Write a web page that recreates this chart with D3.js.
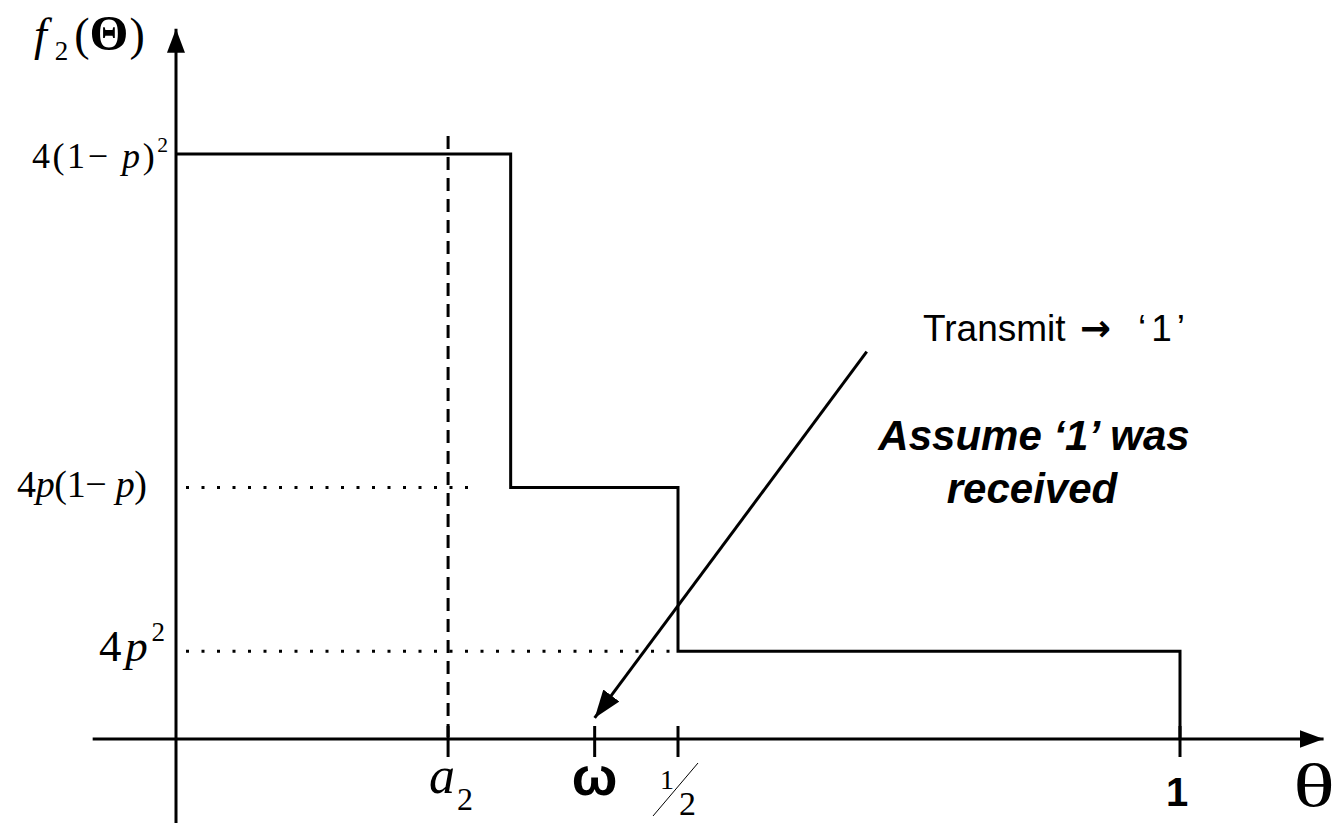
<!DOCTYPE html>
<html>
<head>
<meta charset="utf-8">
<script src="https://cdn.jsdelivr.net/npm/d3@7"></script>
<style>
  html, body { margin: 0; padding: 0; background: #fff; }
  svg { display: block; }
  .serif { font-family: "Liberation Serif", "Times New Roman", serif; }
  .sans { font-family: "Liberation Sans", Arial, sans-serif; }
</style>
</head>
<body>
<svg id="chart" width="1335" height="823"></svg>
<script>
// Step density f2(θ): breakpoints along θ and the level on each interval
const stepBreaks = [0, 1 / 3, 0.5, 1];
const stepLevels = [1.0, 0.43, 0.15];
const levelLabels = ["4(1−p)²", "4p(1−p)", "4p²"];

// Marked positions on the θ axis
const a2 = 0.271;
const omega = 0.417;
const half = 0.5;
const one = 1;

// Axis extents (data units)
const xAxisExtent = [-0.083, 1.143];
const yAxisExtent = [-0.144, 1.214];

// Annotation arrow: from under the caption down to ω
const noteStart = { t: 0.688, v: 0.662 };
const noteEnd = { t: omega, v: 0.036 };

const svg = d3.select("#chart");
const x = d3.scaleLinear().domain([0, 1]).range([176, 1180]);
const y = d3.scaleLinear().domain([0, 1]).range([739, 154]);

const defs = svg.append("defs");
defs.append("marker")
  .attr("id", "axisHead").attr("viewBox", "0 0 24 18")
  .attr("refX", 24).attr("refY", 9)
  .attr("markerWidth", 24).attr("markerHeight", 18)
  .attr("markerUnits", "userSpaceOnUse").attr("orient", "auto")
  .append("path").attr("d", "M0,0 L24,9 L0,18 Z").attr("fill", "#000");
defs.append("marker")
  .attr("id", "noteHead").attr("viewBox", "0 0 28 20")
  .attr("refX", 28).attr("refY", 10)
  .attr("markerWidth", 28).attr("markerHeight", 20)
  .attr("markerUnits", "userSpaceOnUse").attr("orient", "auto")
  .append("path").attr("d", "M0,0 L28,10 L0,20 Z").attr("fill", "#000");

// Axes
svg.append("line")
  .attr("x1", x(xAxisExtent[0])).attr("y1", y(0))
  .attr("x2", x(xAxisExtent[1])).attr("y2", y(0))
  .attr("stroke", "#000").attr("stroke-width", 3)
  .attr("marker-end", "url(#axisHead)");
svg.append("line")
  .attr("x1", x(0)).attr("y1", y(yAxisExtent[0]))
  .attr("x2", x(0)).attr("y2", y(yAxisExtent[1]))
  .attr("stroke", "#000").attr("stroke-width", 3)
  .attr("marker-end", "url(#axisHead)");

// Tick marks on θ axis
[a2, omega, half, one].forEach(t => {
  svg.append("line")
    .attr("x1", x(t)).attr("x2", x(t))
    .attr("y1", y(0) - 13).attr("y2", y(0) + 18)
    .attr("stroke", "#000").attr("stroke-width", 3);
});

// Dashed guide at a2
svg.append("line")
  .attr("x1", x(a2)).attr("x2", x(a2))
  .attr("y1", y(stepLevels[0]) - 18).attr("y2", y(0))
  .attr("stroke", "#000").attr("stroke-width", 3)
  .attr("stroke-dasharray", "13,8");

// Dotted reference lines to the lower levels
[1, 2].forEach(i => {
  const xEnd = i === 1 ? x(a2) + 22 : x(stepBreaks[2]) - 6;
  svg.append("line")
    .attr("x1", x(0) + 10).attr("x2", xEnd)
    .attr("y1", y(stepLevels[i])).attr("y2", y(stepLevels[i]))
    .attr("stroke", "#000").attr("stroke-width", 3)
    .attr("stroke-dasharray", "3,12.5");
});

// Step function
const stepPts = [];
stepLevels.forEach((v, i) => {
  stepPts.push([stepBreaks[i], v]);
  stepPts.push([stepBreaks[i + 1], v]);
});
stepPts.push([stepBreaks[stepBreaks.length - 1], 0]);
svg.append("path")
  .attr("d", d3.line().x(d => x(d[0])).y(d => y(d[1]))(stepPts))
  .attr("fill", "none").attr("stroke", "#000").attr("stroke-width", 3)
  .attr("stroke-linejoin", "miter");

// Annotation arrow
svg.append("line")
  .attr("x1", x(noteStart.t)).attr("y1", y(noteStart.v))
  .attr("x2", x(noteEnd.t)).attr("y2", y(noteEnd.v))
  .attr("stroke", "#000").attr("stroke-width", 3)
  .attr("marker-end", "url(#noteHead)");

// ---- Text ----
// Y axis title f2(Θ)
const yt = svg.append("text").attr("class", "serif").attr("x", 34).attr("y", 50)
  .attr("font-size", 46);
yt.append("tspan").attr("font-style", "italic").text("f");
yt.append("tspan").attr("font-size", 27).attr("dy", 10).attr("dx", 8).text("2");
yt.append("tspan").attr("dy", -10).attr("dx", 6).text("(");
yt.append("tspan").attr("font-weight", "bold").attr("font-size", 50).text("Θ");
yt.append("tspan").attr("dx", 1).text(")");

// Level labels
function levelLabel(xPos, baseline, size, width, parts) {
  const t = svg.append("text").attr("class", "serif")
    .attr("x", xPos).attr("y", baseline).attr("font-size", size)
    .attr("textLength", width).attr("lengthAdjust", "spacing");
  parts.forEach(p => {
    const s = t.append("tspan").text(p.s);
    if (p.it) s.attr("font-style", "italic");
    if (p.sup) s.attr("font-size", size * 0.6).attr("dy", p.sup);
  });
}
levelLabel(32, y(stepLevels[0]) + 14, 36, 136, [
  { s: "4(1− " }, { s: "p", it: true }, { s: ")" }, { s: "2", sup: -16 }
]);
levelLabel(17, y(stepLevels[1]) + 10, 38, 130, [
  { s: "4" }, { s: "p", it: true }, { s: "(1− " }, { s: "p", it: true }, { s: ")" }
]);
levelLabel(99, y(stepLevels[2]) + 10, 45, 66, [
  { s: "4" }, { s: "p", it: true }, { s: "2", sup: -20 }
]);

// θ-axis labels
const at = svg.append("text").attr("class", "serif")
  .attr("x", x(a2) - 19).attr("y", 793).attr("font-size", 52);
at.append("tspan").attr("font-style", "italic").text("a");
at.append("tspan").attr("font-size", 32).attr("dy", 17).attr("dx", 2).text("2");

svg.append("text").attr("class", "sans")
  .attr("x", x(omega)).attr("y", 795).attr("text-anchor", "middle")
  .attr("font-size", 54).attr("font-weight", "bold").text("ω");

// ½ as a built-up fraction
svg.append("text").attr("class", "serif")
  .attr("x", x(half) - 18).attr("y", 789).attr("font-size", 28).text("1");
svg.append("text").attr("class", "serif")
  .attr("x", x(half) + 1).attr("y", 815).attr("font-size", 34).text("2");
svg.append("line")
  .attr("x1", x(half) - 25).attr("y1", 816)
  .attr("x2", x(half) + 20).attr("y2", 763)
  .attr("stroke", "#000").attr("stroke-width", 1);

svg.append("text").attr("class", "sans")
  .attr("x", x(one) - 3).attr("y", 806).attr("text-anchor", "middle")
  .attr("font-size", 40).attr("font-weight", "bold").text("1");

svg.append("text").attr("class", "serif")
  .attr("x", 1314).attr("y", 806).attr("text-anchor", "middle")
  .attr("font-size", 62)
  .attr("transform", "translate(1314,0) scale(1.4,1) translate(-1314,0)")
  .text("θ");

// Caption
const cap = svg.append("text").attr("class", "sans")
  .attr("x", 923).attr("y", 341).attr("font-size", 37);
cap.append("tspan").text("Transmit");
cap.append("tspan").attr("x", 1080).attr("font-family", "DejaVu Sans")
  .attr("font-weight", "bold").text("→");
cap.append("tspan").attr("x", 1138).attr("letter-spacing", 5).text("‘1’");

svg.append("text").attr("class", "sans")
  .attr("x", 1034).attr("y", 450).attr("text-anchor", "middle")
  .attr("font-size", 42).attr("font-weight", "bold").attr("font-style", "italic")
  .text("Assume ‘1’ was");
svg.append("text").attr("class", "sans")
  .attr("x", 1032).attr("y", 503).attr("text-anchor", "middle")
  .attr("font-size", 42).attr("font-weight", "bold").attr("font-style", "italic")
  .text("received");
</script>
</body>
</html>
